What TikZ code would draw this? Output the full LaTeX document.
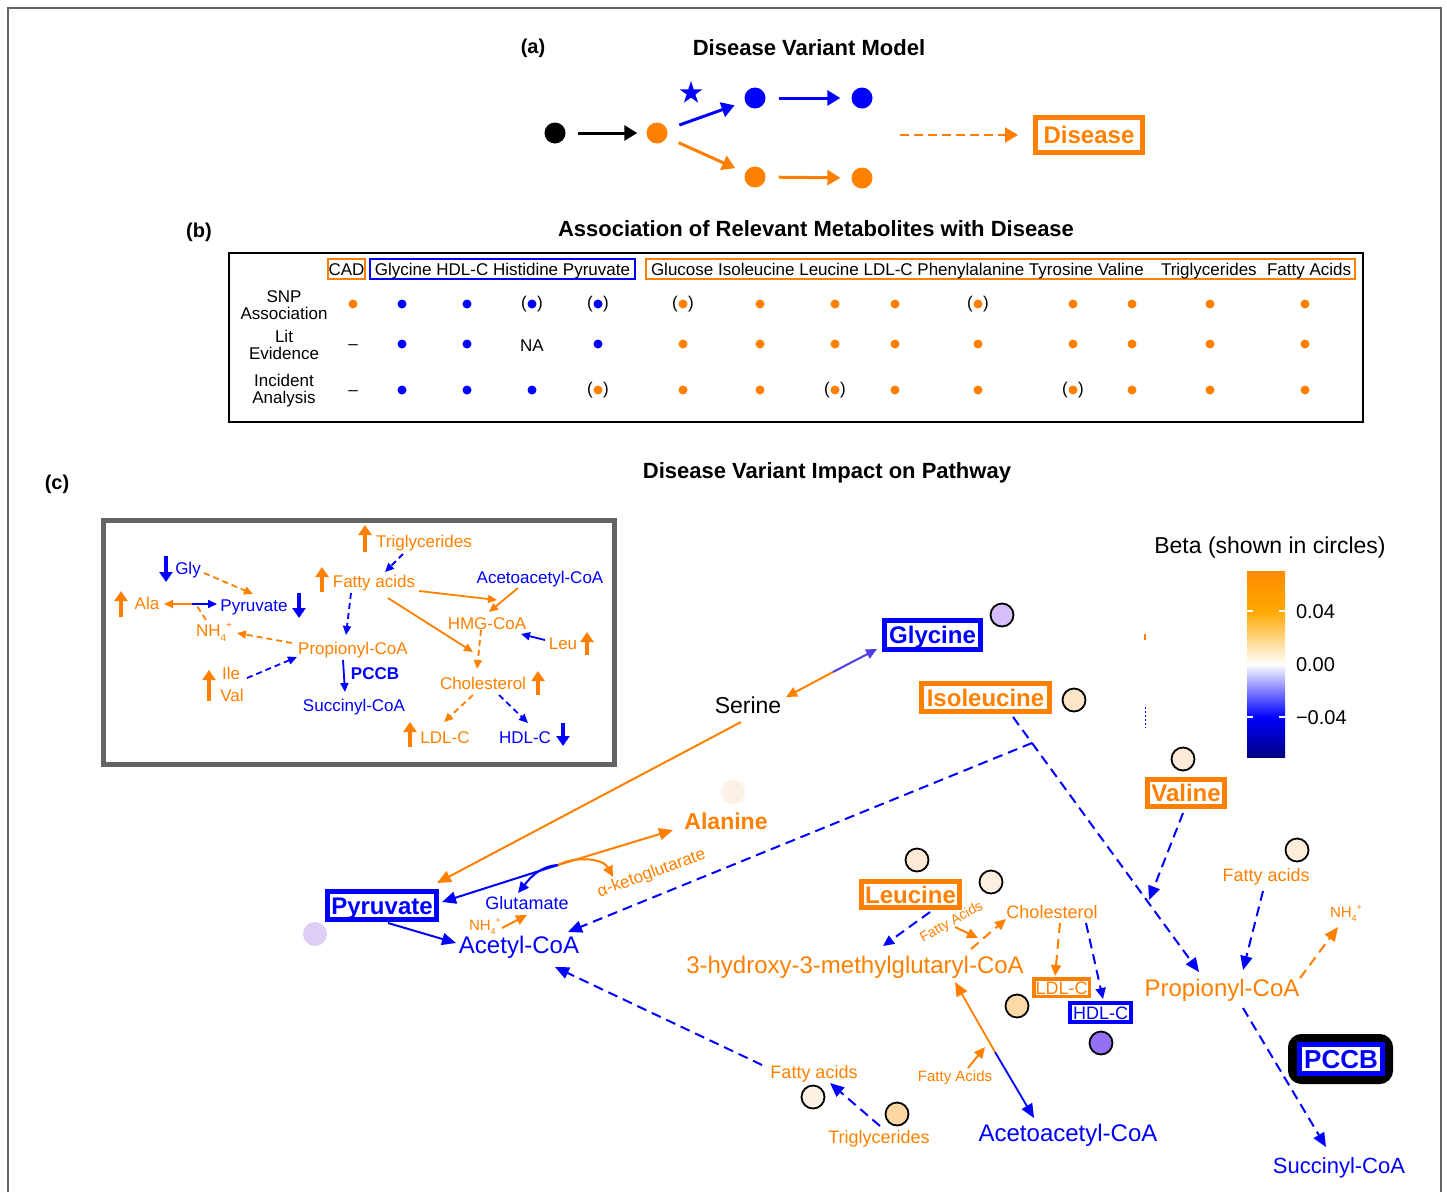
\documentclass[tikz,border=0pt]{standalone}
\usepackage{fontspec}
\setmainfont{Liberation Sans}
\usetikzlibrary{arrows.meta,shapes.geometric,calc}
\definecolor{OR}{RGB}{255,128,0}
\definecolor{BL}{RGB}{0,0,255}
\definecolor{PU}{RGB}{80,64,228}
\definecolor{FRM}{RGB}{100,100,100}
\definecolor{cGly}{RGB}{214,190,250}
\definecolor{cIso}{RGB}{253,229,200}
\definecolor{cVal}{RGB}{253,235,215}
\definecolor{cAla}{RGB}{252,241,229}
\definecolor{cPyr}{RGB}{222,206,246}
\definecolor{cLeuA}{RGB}{253,234,214}
\definecolor{cLeuB}{RGB}{253,240,224}
\definecolor{cLdl}{RGB}{253,216,168}
\definecolor{cHdl}{RGB}{148,112,245}
\definecolor{cFar}{RGB}{253,238,220}
\definecolor{cFal}{RGB}{253,241,228}
\definecolor{cTri}{RGB}{253,214,162}
\definecolor{cbA}{RGB}{255,140,0}
\definecolor{cbB}{RGB}{255,168,0}
\definecolor{cbE}{RGB}{0,0,130}
\newcommand{\myfs}[1]{\fontsize{#1}{#1}\selectfont}
\newcommand{\nhx}[1]{NH\raisebox{-0.3em}{\myfs{#1}4}\raisebox{0.45em}{\myfs{#1}+}}
\tikzset{
 txt/.style={inner sep=0pt, outer sep=0pt, text depth=0pt},
 fA/.style={font=\myfs{14}, text height=10.1pt},
 fB/.style={font=\myfs{15}, text height=10.8pt},
 fC/.style={font=\myfs{17}, text height=12.2pt},
 fD/.style={font=\myfs{18}, text height=13pt},
 fE/.style={font=\myfs{20}, text height=14.4pt},
 fF/.style={font=\myfs{22}, text height=15.8pt},
 fG/.style={font=\myfs{23}, text height=16.6pt},
 fH/.style={font=\myfs{24}, text height=17.3pt},
 fI/.style={font=\myfs{26}, text height=18.7pt},
 arrA/.style={line width=3pt, -{Triangle[length=13pt,width=15pt]}},
 arrD/.style={line width=2.5pt, dash pattern=on 9pt off 5pt, -{Triangle[length=13pt,width=15pt]}},
 mAr/.style={line width=2pt, -{Triangle[length=14pt,width=12pt]}},
 mDa/.style={mAr, dash pattern=on 10pt off 6pt},
 smT/.style={-{Triangle[length=11pt,width=10pt]}},
 inAr/.style={line width=1.8pt, -{Triangle[length=9pt,width=8pt]}},
 inDa/.style={inAr, dash pattern=on 6pt off 4pt},
 indc/.style={line width=4.5pt, -{Triangle[length=10pt,width=13pt]}},
 dotc/.style={circle, inner sep=0pt, minimum size=9pt},
 bdotc/.style={circle, inner sep=0pt, minimum size=21pt},
 bcirc/.style={circle, draw=black, line width=1.8pt, inner sep=0pt, minimum size=23pt},
 nbx/.style={draw, line width=5pt, inner sep=0pt, text depth=0pt},
}
\begin{document}
\begin{tikzpicture}[x=1pt,y=-1pt]
\useasboundingbox (0,0) rectangle (1447,1192);
\fill[white] (0,0) rectangle (1447,1192);
\draw[line width=1.5pt, FRM] (8,1192) -- (8,8) -- (1441,8) -- (1441,1192);

% ---------------- panel (a)
\node[txt,fE] (la) at (533,46) {\bfseries (a)};
\node[txt,fF] (ta) at (809,48) {\bfseries Disease Variant Model};
\node[bdotc, fill=black] (k0) at (555,133) {};
\node[bdotc, fill=OR] (o1) at (657,133) {};
\node[bdotc, fill=BL] (b1) at (755,98) {};
\node[bdotc, fill=BL] (b2) at (862,98) {};
\node[bdotc, fill=OR] (o2) at (755,177) {};
\node[bdotc, fill=OR] (o3) at (862,178) {};
\node[star, star points=5, star point ratio=2.6, fill=BL, inner sep=0pt, minimum size=24pt] (st) at (691,93) {};
\node[nbx, draw=OR, text=OR, fH, minimum width=107pt, minimum height=35pt] (dis) at (1089,135) {\bfseries Disease};
\coordinate (dsrc) at (900,135);
\draw[arrA, shorten <=12pt, shorten >=9pt] (k0) -- (o1);
\draw[arrA, BL, shorten <=13pt, shorten >=11pt] (o1) -- (b1);
\draw[arrA, OR, shorten <=13pt, shorten >=11pt] (o1) -- (o2);
\draw[arrA, BL, shorten <=13pt, shorten >=11pt] (b1) -- (b2);
\draw[arrA, OR, shorten <=13pt, shorten >=11pt] (o2) -- (o3);
\draw[arrD, OR, shorten >=15pt] (dsrc) -- (dis);

% ---------------- panel (b)
\node[txt,fE] (lb) at (199,230) {\bfseries (b)};
\node[txt,fF] (tb) at (816,229) {\bfseries Association of Relevant Metabolites with Disease};
\node[draw, line width=2.5pt, minimum width=1134pt, minimum height=169pt, inner sep=0pt] (tbl) at (796,337.5) {};
\node[draw=OR, line width=2.2pt, minimum width=37pt, minimum height=20pt, txt, fC] (hcad) at (346.5,269) {CAD};
\node[draw=BL, line width=2.2pt, minimum width=265pt, minimum height=20pt, txt, fC] (hblue) at (502.5,269) {Glycine HDL-C Histidine Pyruvate};
\node[draw=OR, line width=2.2pt, minimum width=709pt, minimum height=20pt, inner sep=0pt] (horange) at (1000.5,269) {};
\node[txt,fC,anchor=west] (h1) at (651,269) {Glucose Isoleucine Leucine LDL-C Phenylalanine Tyrosine Valine};
\node[txt,fC,anchor=west] (h2) at (1161,269) {Triglycerides};
\node[txt,fC,anchor=west] (h3) at (1267,269) {Fatty Acids};
\node[txt,fC] (r1a) at (284,296) {SNP};
\node[txt,fC] (r1b) at (284,313) {Association};
\node[txt,fC] (r2a) at (284,336) {Lit};
\node[txt,fC] (r2b) at (284,353) {Evidence};
\node[txt,fC] (r3a) at (284,380) {Incident};
\node[txt,fC] (r3b) at (284,397) {Analysis};
\foreach \x/\c [count=\i] in {353/OR,402/BL,467/BL,532/BL,598/BL,683/OR,760/OR,835/OR,895/OR,978/OR,1073/OR,1132/OR,1210/OR,1305/OR}
  \node[dotc, fill=\c] (sa\i) at (\x,304) {};
\foreach \x/\c [count=\i] in {402/BL,467/BL,598/BL,683/OR,760/OR,835/OR,895/OR,978/OR,1073/OR,1132/OR,1210/OR,1305/OR}
  \node[dotc, fill=\c] (le\i) at (\x,344) {};
\foreach \x/\c [count=\i] in {402/BL,467/BL,532/BL,598/OR,683/OR,760/OR,835/OR,895/OR,978/OR,1073/OR,1132/OR,1210/OR,1305/OR}
  \node[dotc, fill=\c] (ia\i) at (\x,390) {};
\foreach \x/\y [count=\i] in {532/304,598/304,683/304,978/304,598/390,835/390,1073/390}{
  \node[inner sep=0pt, font=\myfs{17}] (pl\i) at (\x-8,\y) {(};
  \node[inner sep=0pt, font=\myfs{17}] (pr\i) at (\x+8,\y) {)};
}
\node[txt,fC] (dash1) at (353,343) {–};
\node[txt,fC] (dash2) at (353,389) {–};
\node[txt,fC] (na) at (532,345) {NA};

% ---------------- panel (c)
\node[txt,fE] (lc) at (57,482) {\bfseries (c)};
\node[txt,fF] (tc) at (827,471) {\bfseries Disease Variant Impact on Pathway};

% inset
\node[draw=FRM, line width=5pt, minimum width=511pt, minimum height=244pt, inner sep=0pt] (inset) at (359,642) {};
\node[txt,fC,text=OR] (iTrig) at (424,541) {Triglycerides};
\node[txt,fC,text=BL] (iGly) at (188,568) {Gly};
\node[txt,fC,text=OR] (iFA) at (374,581) {Fatty acids};
\node[txt,fC,text=BL] (iAcac) at (540,577) {Acetoacetyl-CoA};
\node[txt,fC,text=OR] (iAla) at (147,603) {Ala};
\node[txt,fC,text=BL] (iPyr) at (254,605) {Pyruvate};
\node[txt,fC,text=OR] (iNH4) at (214,630) {\nhx{10}};
\node[txt,fC,text=OR] (iHMG) at (487,623) {HMG-CoA};
\node[txt,fC,text=OR] (iProp) at (353,648) {Propionyl-CoA};
\node[txt,fC,text=OR] (iLeu) at (563,643) {Leu};
\node[txt,fC,text=OR] (iIle) at (231,673) {Ile};
\node[txt,fC,text=OR] (iVal) at (232,695) {Val};
\node[txt,fC,text=BL] (iPCCB) at (375,673) {\bfseries PCCB};
\node[txt,fC,text=OR] (iChol) at (483,683) {Cholesterol};
\node[txt,fC,text=BL] (iSucc) at (354,705) {Succinyl-CoA};
\node[txt,fC,text=OR] (iLDL) at (445,737) {LDL-C};
\node[txt,fC,text=BL] (iHDL) at (525,737) {HDL-C};
\draw[indc,OR] (365,552) -- (365,525);
\draw[indc,BL] (166,556) -- (166,582);
\draw[indc,OR] (322,592) -- (322,567);
\draw[indc,OR] (121,617) -- (121,591);
\draw[indc,BL] (299,593) -- (299,618);
\draw[indc,OR] (587,655) -- (587,632);
\draw[indc,OR] (209,701) -- (209,670);
\draw[indc,OR] (538,695) -- (538,671);
\draw[indc,OR] (410,747) -- (410,722);
\draw[indc,BL] (563,723) -- (563,746);
\coordinate (iJ) at (192,604);
\draw[inDa,OR] ($(iGly)+(16,5)$) -- ($(iPyr)+(-1,-11)$);
\draw[inAr,OR] (iJ) -- ($(iAla)+(17,1)$);
\draw[inAr,BL] (iJ) -- ($(iPyr)+(-37,-1)$);
\draw[inDa,OR,-] ($(iNH4)+(-8,-10)$) -- ($(iJ)+(5,2)$);
\draw[inDa,OR] ($(iProp)+(-61,-5)$) -- ($(iNH4)+(23,3)$);
\draw[inDa,BL] ($(iIle)+(16,5)$) -- ($(iProp)+(-56,9)$);
\draw[inDa,BL] ($(iTrig)+(-21,13)$) -- ($(iFA)+(11,-9)$);
\draw[inDa,BL] ($(iFA)+(-23,12)$) -- ($(iProp)+(-7,-13)$);
\draw[inAr,BL] ($(iProp)+(-10,12)$) -- ($(iSucc)+(-9,-13)$);
\draw[inAr,OR] ($(iFA)+(45,10)$) -- ($(iHMG)+(10,-23)$);
\draw[inAr,OR] ($(iAcac)+(-22,11)$) -- ($(iHMG)+(2,-11)$);
\draw[inAr,OR] ($(iFA)+(14,17)$) -- ($(iChol)+(-10,-31)$);
\draw[inDa,OR] ($(iHMG)+(-6,7)$) -- ($(iChol)+(-6,-14)$);
\draw[inAr,BL] ($(iLeu)+(-18,-3)$) -- ($(iHMG)+(34,11)$);
\draw[inDa,OR] ($(iChol)+(-10,12)$) -- ($(iLDL)+(-1,-15)$);
\draw[inDa,BL] ($(iChol)+(16,12)$) -- ($(iHDL)+(3,-14)$);

% legend
\node[txt,fG] (beta) at (1270,545) {Beta (shown in circles)};
\shade[top color=cbA, bottom color=cbB] (1247,571) rectangle (1285,611.5);
\shade[top color=cbB, bottom color=white] (1247,611) rectangle (1285,664.5);
\shade[top color=white, bottom color=BL] (1247,664) rectangle (1285,717.5);
\shade[top color=BL, bottom color=cbE] (1247,717) rectangle (1285,757);
\draw[white, line width=1.5pt] (1247,611) -- (1253,611) (1279,611) -- (1285,611) (1247,717) -- (1253,717) (1279,717) -- (1285,717);
\node[txt,fE,anchor=west] (t1) at (1296,611) {0.04};
\node[txt,fE,anchor=west] (t2) at (1296,664) {0.00};
\node[txt,fE,anchor=west] (t3) at (1296,717) {−0.04};
\draw[OR, line width=1.5pt] (1145,634) -- (1145,640);
\draw[BL, line width=1pt, dash pattern=on 2pt off 2pt] (1145,707) -- (1145,728);

% main nodes
\node[nbx, draw=BL, text=BL, fH, minimum width=96pt, minimum height=29pt] (gly) at (932.5,635) {\bfseries Glycine};
\node[nbx, draw=OR, text=OR, fH, minimum width=128pt, minimum height=28pt] (iso) at (985.5,697.5) {\bfseries Isoleucine};
\node[nbx, draw=OR, text=OR, fH, minimum width=77pt, minimum height=27pt] (val) at (1186,793) {\bfseries Valine};
\node[nbx, draw=BL, text=BL, fH, minimum width=109pt, minimum height=28pt] (pyr) at (382,905.5) {\bfseries Pyruvate};
\node[nbx, draw=OR, text=OR, fH, minimum width=98pt, minimum height=26pt] (leu) at (910.5,894.5) {\bfseries Leucine};
\node[nbx, draw=OR, text=OR, fD, line width=3.5pt, minimum width=55.5pt, minimum height=17.5pt] (ldl) at (1061.5,987.5) {LDL-C};
\node[nbx, draw=BL, text=BL, fD, line width=4pt, minimum width=61pt, minimum height=19pt] (hdl) at (1100.5,1012.5) {HDL-C};
\node[draw=black, fill=white, line width=9pt, rounded corners=9pt, minimum width=96pt, minimum height=41pt, inner sep=0pt] (pccbO) at (1340.5,1059) {};
\node[nbx, draw=BL, text=BL, fI, minimum width=83pt, minimum height=29pt] (pccb) at (1341,1059) {\bfseries PCCB};
\node[txt,fG] (ser) at (748,705) {Serine};
\node[txt,fG,text=OR] (ala) at (726,821) {\bfseries Alanine};
\node[txt,fH,text=BL] (acet) at (519,945) {Acetyl-CoA};
\node[txt,fD,text=BL] (glu) at (527,903) {Glutamate};
\node[txt,fB,text=OR] (nh4m) at (485,925) {\nhx{9}};
\node[txt,fC,text=OR,rotate=20] (akg) at (651,872) {α-ketoglutarate};
\node[txt,fH,text=OR] (hmg) at (855,965) {3-hydroxy-3-methylglutaryl-CoA};
\node[txt,fA,text=OR,rotate=29] (fas1) at (951,921) {Fatty Acids};
\node[txt,fD,text=OR] (chol) at (1052,912) {Cholesterol};
\node[txt,fH,text=OR] (prop) at (1222,988) {Propionyl-CoA};
\node[txt,fD,text=OR] (far) at (1266,875) {Fatty acids};
\node[txt,fB,text=OR] (nh4r) at (1346,912) {\nhx{9}};
\node[txt,fF,text=BL] (succ) at (1339,1166) {Succinyl-CoA};
\node[txt,fH,text=BL] (acac) at (1068,1133) {Acetoacetyl-CoA};
\node[txt,fB,text=OR] (fas2) at (955,1076) {Fatty Acids};
\node[txt,fD,text=OR] (fal) at (814,1072) {Fatty acids};
\node[txt,fD,text=OR] (trig) at (879,1137) {Triglycerides};

% circles
\node[bcirc, fill=cGly] (cgly) at (1002,615) {};
\node[bcirc, fill=cIso] (ciso) at (1074,700) {};
\node[bcirc, fill=cVal] (cval) at (1183,759) {};
\node[circle, fill=cAla, inner sep=0pt, minimum size=24pt] (cala) at (733,792) {};
\node[circle, fill=cPyr, inner sep=0pt, minimum size=24pt] (cpyr) at (315,934) {};
\node[bcirc, fill=cLeuA] (cleu1) at (917,860) {};
\node[bcirc, fill=cLeuB] (cleu2) at (991,882) {};
\node[bcirc, fill=cLdl] (cldl) at (1017,1006) {};
\node[bcirc, fill=cHdl] (chdl) at (1101,1043) {};
\node[bcirc, fill=cFar] (cfar) at (1297,850) {};
\node[bcirc, fill=cFal] (cfal) at (813,1097) {};
\node[bcirc, fill=cTri] (ctri) at (897,1114) {};

% main connectors
\draw[mAr,OR] ($(ser)+(-7,17)$) -- ($(pyr)+(55,-22.5)$);
\coordinate (J6) at (833,672);
\draw[mAr,OR,smT] (J6) -- ($(ser)+(38,-8)$);
\draw[mAr,PU,smT] (J6) -- ($(gly)+(-55.5,14)$);
\coordinate (J1) at (558,865);
\draw[mAr,BL] (J1) -- ($(pyr)+(60,-3.5)$);
\draw[mAr,OR] (J1) -- ($(ala)+(-53,9)$);
\draw[mAr,BL,smT] (J1) .. controls ($(J1)+(-18,1)$) and ($(glu)+(3,-25)$) .. ($(glu)+(-9,-10)$);
\draw[mAr,OR,smT] (J1) .. controls ($(J1)+(17,-9)$) and ($(akg)+(-48,-14)$) .. ($(akg)+(-38,5)$);
\draw[mAr,OR,smT] ($(nh4m)+(17,3)$) -- ($(glu)+(0,12)$);
\draw[mAr,BL] ($(pyr)+(6,17.5)$) -- ($(acet)+(-63,-2)$);
\coordinate (J2) at (1032,743);
\draw[mDa,BL,-] ($(iso)+(27.5,19.5)$) -- (J2);
\draw[mDa,BL] (J2) -- ($(acet)+(49,-13)$);
\draw[mDa,BL] (J2) -- ($(prop)+(-23,-16)$);
\coordinate (J3) at (1149,900);
\draw[mDa,BL] ($(val)+(-3,20)$) -- (J3);
\draw[mDa,BL] ($(far)+(-3,16)$) -- ($(prop)+(21,-18)$);
\draw[mDa,OR] ($(prop)+(78,-10)$) -- ($(nh4r)+(-8,15)$);
\draw[mDa,BL] ($(prop)+(21,20)$) -- ($(succ)+(-13,-19)$);
\draw[mDa,BL,smT] ($(leu)+(19.5,17.5)$) -- ($(hmg)+(28,-19)$);
\coordinate (J4) at (978,938);
\draw[mAr,OR,smT] ($(fas1)+(4,6)$) -- (J4);
\draw[mDa,OR,smT] ($(hmg)+(116,-16)$) -- ($(chol)+(-46,7)$);
\draw[mDa,OR,smT] ($(chol)+(8,11)$) -- ($(ldl)+(-6.5,-11.5)$);
\draw[mDa,BL,smT] ($(chol)+(34,11)$) -- ($(hdl)+(2.5,-13.5)$);
\coordinate (J5) at (995,1052);
\draw[mAr,OR,line width=1.8pt] (J5) -- ($(hmg)+(100,17)$);
\draw[mAr,BL,line width=1.8pt] (J5) -- ($(acac)+(-34,-15)$);
\coordinate (J7) at (985,1047);
\draw[mAr,OR,smT] ($(fas2)+(13,-8)$) -- (J7);
\draw[mDa,BL] ($(trig)+(1,-11)$) -- ($(fal)+(16,11)$);
\draw[mDa,BL] ($(fal)+(-52,-7)$) -- ($(acet)+(36,22)$);
\end{tikzpicture}
\end{document}
